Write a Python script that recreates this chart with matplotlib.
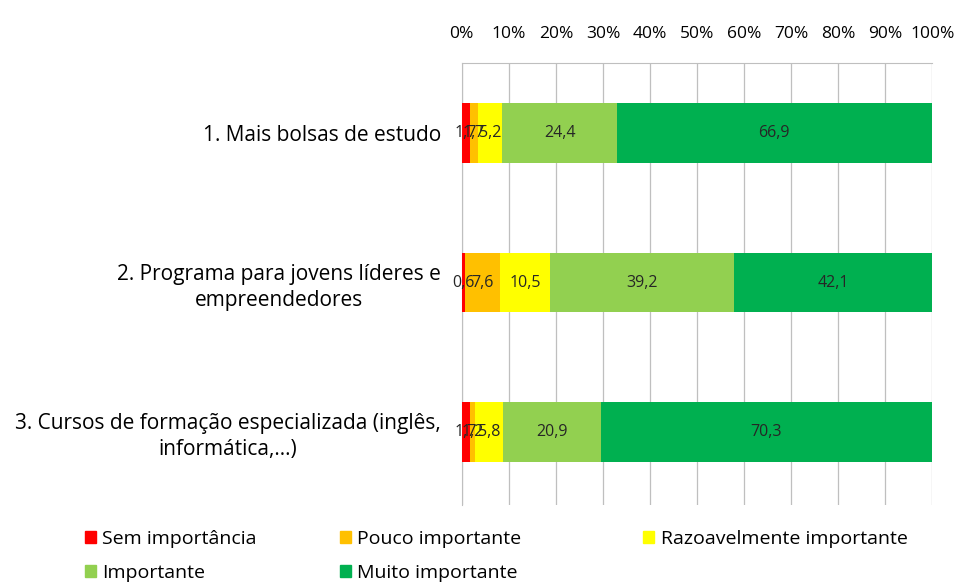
import matplotlib.pyplot as plt
import matplotlib.patches as mpatches
import numpy as np

plt.rcParams["font.family"] = ["Open Sans", "DejaVu Sans"]

CATEGORIES = [
    "1. Mais bolsas de estudo",
    "2. Programa para jovens líderes e\nempreendedores",
    "3. Cursos de formação especializada (inglês,\ninformática,...)",
]
SERIES = [
    "Sem importância",
    "Pouco importante",
    "Razoavelmente importante",
    "Importante",
    "Muito importante",
]
VALUES = [
    [1.7, 0.6, 1.7],    # Sem importância
    [1.7, 7.6, 1.2],    # Pouco importante
    [5.2, 10.5, 5.8],   # Razoavelmente importante
    [24.4, 39.2, 20.9], # Importante
    [66.9, 42.1, 70.3], # Muito importante
]
COLORS = ["#FF0000", "#FFC000", "#FFFF00", "#92D050", "#00B050"]


def fmt(v):
    return f"{v:.1f}".replace(".", ",")


fig = plt.figure(figsize=(9.6, 5.84), dpi=100)
ax = fig.add_axes([0.481, 0.135, 0.49, 0.757])

y = np.arange(len(CATEGORIES))
left = np.zeros(len(CATEGORIES))
handles = []
for name, vals, color in zip(SERIES, VALUES, COLORS):
    vals = np.array(vals)
    ax.barh(y, vals, left=left, height=0.4, color=color, edgecolor="none", zorder=3)
    for yi, l, v in zip(y, left, vals):
        ax.text(l + v / 2, yi, fmt(v), ha="center", va="center",
                fontsize=11.5, color="#262626", zorder=4)
    left = left + vals
    handles.append(mpatches.Patch(color=color, label=name))

ax.set_xlim(0, 100)
ax.set_ylim(2.49, -0.47)
ax.set_xticks(np.arange(0, 101, 10))
ax.set_xticklabels([f"{t}%" for t in range(0, 101, 10)], fontsize=12.5)
ax.xaxis.tick_top()
ax.set_yticks(y)
ax.set_yticklabels(CATEGORIES, fontsize=15, multialignment="center", linespacing=1.3)
ax.tick_params(axis="x", length=0, pad=15, colors="#000000")
ax.tick_params(axis="y", length=0, pad=15, colors="#000000")
ax.grid(axis="x", color="#BFBFBF", linewidth=0.9, zorder=0)
for side in ["right", "bottom"]:
    ax.spines[side].set_visible(False)
for side in ["top", "left"]:
    ax.spines[side].set_color("#BFBFBF")

# legend laid out as three columns, filled row by row
columns = [([0, 3], 0.0885), ([1, 4], 0.354), ([2], 0.670)]
for idx, x0 in columns:
    fig.legend([handles[i] for i in idx], [SERIES[i] for i in idx],
               loc="upper left", bbox_to_anchor=(x0, 0.093),
               frameon=False, fontsize=14, handlelength=0.55, handleheight=0.55,
               labelspacing=0.85, handletextpad=0.35, borderpad=0, borderaxespad=0)

fig.savefig("out.png", dpi=100, facecolor="white")
